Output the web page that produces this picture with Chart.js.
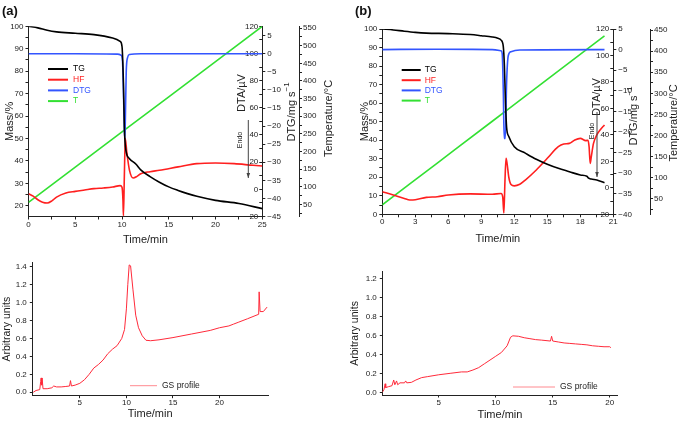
<!DOCTYPE html>
<html>
<head>
<meta charset="utf-8">
<title>TG / DTA and GS profile</title>
<script src="https://cdn.jsdelivr.net/npm/chart.js@4"></script>
<style>
  body { margin: 0; background: #fff; }
  #wrap { position: relative; width: 685px; height: 422px; }
  canvas { position: absolute; }
</style>
</head>
<body>
<div id="wrap">
  <canvas id="chartA" width="340" height="250" style="left:0;top:0"></canvas>
  <canvas id="chartB" width="345" height="250" style="left:340px;top:0"></canvas>
  <canvas id="chartC" width="340" height="172" style="left:0;top:250px"></canvas>
  <canvas id="chartD" width="345" height="172" style="left:340px;top:250px"></canvas>
</div>

<script>
// ---------- panel (a) ----------
var aTgTime  = [0, 1, 2, 3, 5, 7, 9, 9.8, 10.0, 10.15, 10.25, 10.4, 10.8, 11.5, 12, 13, 14, 15, 16, 17, 18, 20, 22.5, 25];
var aTgMass  = [100, 99.3, 98.2, 97.5, 96.9, 96.3, 94.8, 93.3, 91, 75, 55, 45, 41, 38.5, 36, 33, 30.5, 28.4, 26.8, 25.4, 24.2, 22.4, 21, 18.7];
var aHfTime  = [0, 0.5, 1, 1.5, 2, 2.5, 3, 4, 5, 6, 7, 8, 9, 9.8, 10.0, 10.1, 10.15, 10.25, 10.35, 10.5, 10.8, 11.2, 11.6, 12, 13, 14, 16, 18, 20, 22, 24, 25];
var aHfDta   = [-3.2, -5, -7.7, -9.5, -10.1, -8.5, -5.7, -2.7, -1.5, -0.5, 0.5, 1, 1.7, 2.7, 1.5, -8, -19.5, 10, 37.4, 28, 14, 8.3, 9.5, 11.5, 13, 14, 16.5, 18.9, 19.4, 18.9, 17.7, 17.2];
var aDtgTime = [0, 5, 9.5, 9.9, 10.05, 10.15, 10.25, 10.3, 10.35, 10.45, 10.6, 10.8, 12, 25];
var aDtgVal  = [0, 0, -0.1, -0.4, -2, -10, -21, -23.4, -19, -5, -1, -0.2, 0, 0];
var aTempTime = [0, 5, 10, 15, 20, 25];
var aTempVal  = [56, 156, 256, 355, 455, 555];

// ---------- panel (b) ----------
var bTgTime  = [0, 1, 2, 3, 4, 6, 8, 9, 10, 10.5, 10.8, 11.0, 11.1, 11.2, 11.3, 11.5, 12, 13, 14, 15, 16, 17, 18, 18.6, 18.75, 19, 19.5, 20.2];
var bTgMass  = [100, 99.5, 98.8, 98.2, 97.8, 97.5, 97, 96.4, 95.7, 95, 94, 90.5, 80, 60, 47, 42, 36.5, 33, 29.7, 27, 24.8, 23, 21.2, 20.5, 19.5, 19, 18.5, 17];
var bHfTime  = [0, 1, 2, 2.5, 3, 4, 5, 6, 8, 10, 10.8, 10.95, 11.05, 11.15, 11.25, 11.35, 11.5, 11.7, 12, 12.5, 13, 14, 15, 16, 16.5, 17, 17.5, 18, 18.5, 18.7, 18.8, 18.9, 19.0, 19.2, 19.5, 19.8, 20.2];
var bHfDta   = [-3, -5.4, -8, -9.2, -9, -7.2, -6.7, -5.4, -4.6, -4.9, -4.3, -7, -19, 5, 22.3, 18, 8, 2.5, 1.5, 2.7, 5.9, 13.5, 22.3, 31.1, 33.1, 33.6, 36.2, 37.4, 35.7, 36, 31, 18.5, 23.6, 33.6, 40, 43.7, 47.5];
var bDtgTime = [0, 5, 10, 10.8, 10.9, 11.0, 11.08, 11.18, 11.3, 11.45, 11.7, 12.5, 20.2];
var bDtgVal  = [0, 0.1, 0, -0.3, -1, -10, -21.6, -21.6, -8, -1.5, -0.5, -0.1, 0];
var bTempTime = [0, 5, 10, 15, 20.2];
var bTempVal  = [36, 135, 234, 333, 436];

// ---------- GS profiles ----------
var cTime = [0, 0.3, 0.7, 0.8, 0.85, 0.9, 0.95, 1.05, 1.5, 2.0, 2.2, 2.5, 3.0, 3.5, 3.9, 4.0, 4.1, 4.5, 5, 5.5, 6, 6.5, 7, 7.5, 8, 8.5, 9, 9.5, 9.8, 10, 10.15, 10.3, 10.45, 10.7, 11, 11.3, 11.7, 12.1, 12.6, 13.5, 15, 17, 19, 20, 21, 21.5, 22, 23, 24.2, 24.25, 24.35, 24.7, 25.1];
var cVal  = [0, 0.02, 0.03, 0.12, 0.16, 0.08, 0.16, 0.04, 0.04, 0.05, 0.07, 0.06, 0.06, 0.065, 0.07, 0.13, 0.07, 0.08, 0.1, 0.14, 0.2, 0.27, 0.31, 0.36, 0.43, 0.48, 0.52, 0.6, 0.7, 0.93, 1.2, 1.42, 1.41, 1.15, 0.86, 0.72, 0.63, 0.58, 0.575, 0.585, 0.61, 0.65, 0.69, 0.72, 0.74, 0.76, 0.78, 0.82, 0.87, 1.12, 0.9, 0.9, 0.95];
var dTime = [0.05, 0.2, 0.3, 0.35, 0.6, 0.9, 1.05, 1.15, 1.3, 1.4, 1.6, 2.0, 2.1, 2.2, 2.6, 3, 3.5, 4, 5, 6, 7, 7.5, 8, 8.5, 9, 9.5, 10, 10.5, 11, 11.3, 11.5, 12, 12.5, 13, 13.5, 14, 14.8, 14.9, 15.0, 15.5, 16, 16.5, 17, 17.5, 18, 18.5, 19, 19.5, 20, 20.1];
var dVal  = [0, 0.03, 0.09, 0.05, 0.06, 0.07, 0.13, 0.08, 0.12, 0.08, 0.1, 0.1, 0.12, 0.1, 0.105, 0.13, 0.155, 0.165, 0.185, 0.2, 0.215, 0.215, 0.235, 0.26, 0.3, 0.34, 0.38, 0.42, 0.49, 0.58, 0.595, 0.59, 0.575, 0.565, 0.555, 0.55, 0.54, 0.59, 0.54, 0.53, 0.52, 0.515, 0.51, 0.505, 0.5, 0.49, 0.485, 0.48, 0.48, 0.47];

var FONT = "'Liberation Sans', Arial, Helvetica, sans-serif";
var INK = '#222';
var C_TG = '#000000', C_HF = '#ff1f1f', C_DTG = '#3355ff', C_T = '#33e033';
var C_GS = '#ff2a3a';

Chart.defaults.font.family = FONT;
Chart.defaults.color = INK;

function pts(xs, ys) {
    return xs.map(function (x, i) { return { x: x, y: ys[i] }; });
}

function minus(v) {
    return v < 0 ? '\u2212' + Math.abs(v) : String(v);
}

function every(v, n) {
    return Math.abs(v / n - Math.round(v / n)) < 1e-6;
}

// one axis, with forced size so the plot lands where the figure has it
function axis(o) {
    var a = {
        type: 'linear',
        position: o.position,
        min: o.min,
        max: o.max,
        border: { display: o.border !== false, color: INK, width: 1 },
        grid: { drawOnChartArea: false, tickLength: o.tickLength || 3, color: INK },
        ticks: {
            stepSize: o.step,
            autoSkip: false,
            includeBounds: false,
            maxRotation: 0,
            mirror: !!o.mirror,
            padding: o.padding !== undefined ? o.padding : 1,
            font: { size: 8 },
            callback: o.fmt || function (v) { return every(v, o.labelEvery) ? minus(v) : ''; }
        }
    };
    if (o.title) {
        a.title = { display: true, text: o.title, font: { size: o.titleSize || 11 }, padding: o.titlePad };
    }
    if (o.width !== undefined) a.afterFit = function (s) { s.width = o.width; };
    if (o.height !== undefined) a.afterFit = function (s) { s.height = o.height; };
    if (o.afterBuildTicks) a.afterBuildTicks = o.afterBuildTicks;
    return a;
}

// small texts, rotated titles and the Endo arrow
function textPlugin(items) {
    return {
        id: 'texts',
        afterDraw: function (chart) {
            var ctx = chart.ctx;
            items.forEach(function (t) {
                ctx.save();
                ctx.fillStyle = t.color || INK;
                ctx.strokeStyle = t.color || INK;
                if (t.arrow) {
                    ctx.lineWidth = 1;
                    ctx.beginPath();
                    ctx.moveTo(t.x, t.y1);
                    ctx.lineTo(t.x, t.y2);
                    ctx.stroke();
                    ctx.beginPath();
                    ctx.moveTo(t.x - 1.8, t.y2 - 5);
                    ctx.lineTo(t.x + 1.8, t.y2 - 5);
                    ctx.lineTo(t.x, t.y2);
                    ctx.closePath();
                    ctx.fill();
                    ctx.restore();
                    return;
                }
                ctx.translate(t.x, t.y);
                if (t.rot) ctx.rotate(-Math.PI / 2);
                ctx.textBaseline = t.baseline || 'middle';
                ctx.textAlign = 'left';
                var f = (t.bold ? 'bold ' : '') + t.size + 'px ' + FONT;
                var sf = (t.size * 0.72).toFixed(1) + 'px ' + FONT;
                ctx.font = f;
                var w = ctx.measureText(t.text).width;
                var sw = 0;
                if (t.sup) {
                    ctx.font = sf;
                    sw = ctx.measureText(t.sup).width;
                    ctx.font = f;
                }
                var x0 = t.align === 'left' ? 0 : -(w + sw) / 2;
                ctx.fillText(t.text, x0, 0);
                if (t.sup) {
                    ctx.font = sf;
                    ctx.fillText(t.sup, x0 + w, -t.size * 0.38);
                }
                ctx.restore();
            });
        }
    };
}

// legend drawn inside the plot area
function legendPlugin(cfg) {
    return {
        id: 'innerLegend',
        afterDraw: function (chart) {
            var ctx = chart.ctx;
            ctx.save();
            ctx.font = cfg.size + 'px ' + FONT;
            ctx.textBaseline = 'middle';
            ctx.textAlign = 'left';
            chart.data.datasets.forEach(function (ds, i) {
                var y = cfg.y + i * (cfg.dy || 0);
                ctx.strokeStyle = cfg.lineColor || ds.borderColor;
                ctx.lineWidth = cfg.lineWidth;
                ctx.beginPath();
                ctx.moveTo(cfg.x, y);
                ctx.lineTo(cfg.x + cfg.len, y);
                ctx.stroke();
                ctx.fillStyle = cfg.textColor || ds.borderColor;
                ctx.fillText(ds.label, cfg.x + cfg.len + cfg.gap, y);
            });
            ctx.restore();
        }
    };
}

function line(label, data, color, axisId, width) {
    return {
        label: label,
        data: data,
        borderColor: color,
        backgroundColor: color,
        borderWidth: width,
        pointRadius: 0,
        yAxisID: axisId,
        cubicInterpolationMode: 'monotone'
    };
}

// ---------- (a) ----------
new Chart(document.getElementById('chartA'), {
    type: 'line',
    data: {
        datasets: [
            line('TG', pts(aTgTime, aTgMass), C_TG, 'yMass', 1.6),
            line('HF', pts(aHfTime, aHfDta), C_HF, 'yDta', 1.6),
            line('DTG', pts(aDtgTime, aDtgVal), C_DTG, 'yDtg', 1.6),
            line('T', pts(aTempTime, aTempVal), C_T, 'yTemp', 1.6)
        ]
    },
    options: {
        responsive: false,
        animation: false,
        events: [],
        layout: { padding: { top: 26.3, left: 0, right: 0, bottom: 0 } },
        plugins: { legend: { display: false }, tooltip: { enabled: false } },
        scales: {
            x: axis({ position: 'bottom', min: 0, max: 25, step: 2.5, labelEvery: 5, height: 33.5, padding: 0,
                      title: 'Time/min', titlePad: { top: 0, bottom: 3.4 } }),
            yMass: axis({ position: 'left', min: 15.2, max: 100, step: 5, labelEvery: 10, width: 28.5, padding: 2,
                          title: 'Mass/%', titlePad: { top: 3.4, bottom: 0 } }),
            yDta: axis({ position: 'right', min: -20, max: 120, step: 10, labelEvery: 20, width: 0,
                         mirror: true, padding: -4, tickLength: -3, border: false }),
            yDtg: axis({ position: 'right', min: -45, max: 7.6, step: 5, labelEvery: 5, width: 36.7, padding: 2 }),
            yTemp: axis({ position: 'right', min: 16, max: 555, step: 25, labelEvery: 50, width: 41, padding: 1 })
        }
    },
    plugins: [
        legendPlugin({ x: 48, y: 69, dy: 10.7, len: 20, gap: 5, size: 8.5, lineWidth: 2 }),
        textPlugin([
            { text: '(a)', x: 2, y: 15, size: 13, bold: true, align: 'left', baseline: 'alphabetic', color: '#111' },
            { text: 'DTA/\u00b5V', x: 241.7, y: 93, size: 11, rot: true },
            { text: 'DTG/mg s', sup: '\u22121', x: 291.5, y: 112, size: 11, rot: true },
            { text: 'Temperature/\u00b0C', x: 329, y: 118.5, size: 11, rot: true },
            { arrow: true, x: 248.3, y1: 120, y2: 178, color: '#444' },
            { text: 'Endo', x: 240.5, y: 140, size: 7, rot: true }
        ])
    ]
});

// ---------- (b) ----------
new Chart(document.getElementById('chartB'), {
    type: 'line',
    data: {
        datasets: [
            line('TG', pts(bTgTime, bTgMass), C_TG, 'yMass', 1.6),
            line('HF', pts(bHfTime, bHfDta), C_HF, 'yDta', 1.6),
            line('DTG', pts(bDtgTime, bDtgVal), C_DTG, 'yDtg', 1.6),
            line('T', pts(bTempTime, bTempVal), C_T, 'yTemp', 1.6)
        ]
    },
    options: {
        responsive: false,
        animation: false,
        events: [],
        layout: { padding: { top: 29, left: 0, right: 0, bottom: 0 } },
        plugins: { legend: { display: false }, tooltip: { enabled: false } },
        scales: {
            x: axis({ position: 'bottom', min: 0, max: 21, step: 1.5, labelEvery: 3, height: 35.7, padding: 0,
                      title: 'Time/min', titlePad: { top: 0, bottom: 4.4 } }),
            yMass: axis({ position: 'left', min: 0, max: 100, step: 5, labelEvery: 10, width: 42.3, padding: 2,
                          title: 'Mass/%', titlePad: { top: 18.4, bottom: 0 } }),
            yDta: axis({ position: 'right', min: -20, max: 120, step: 10, labelEvery: 20, width: 0,
                         mirror: true, padding: -4, tickLength: -3, border: false }),
            yDtg: axis({ position: 'right', min: -40, max: 5, step: 5, labelEvery: 5, width: 36.7, padding: 2 }),
            yTemp: axis({ position: 'right', min: 13.7, max: 452.4, step: 25, labelEvery: 50, width: 35, padding: 1 })
        }
    },
    plugins: [
        legendPlugin({ x: 61.7, y: 70, dy: 10.2, len: 19, gap: 4, size: 8.5, lineWidth: 2 }),
        textPlugin([
            { text: '(b)', x: 15, y: 15, size: 13, bold: true, align: 'left', baseline: 'alphabetic', color: '#111' },
            { text: 'DTA/\u00b5V', x: 256.7, y: 97, size: 11, rot: true },
            { text: 'DTG/mg s', sup: '\u22121', x: 294, y: 116, size: 11, rot: true },
            { text: 'Temperature/\u00b0C', x: 334, y: 123, size: 11, rot: true },
            { arrow: true, x: 257, y1: 112, y2: 177, color: '#444' },
            { text: 'Endo', x: 251.7, y: 131, size: 7, rot: true }
        ])
    ]
});

// ---------- GS profile panels ----------
function gsChart(id, time, val, o) {
    return new Chart(document.getElementById(id), {
        type: 'line',
        data: {
            datasets: [{
                label: 'GS profile',
                data: pts(time, val),
                borderColor: C_GS,
                borderWidth: 1,
                pointRadius: 0,
                tension: 0,
                yAxisID: 'y'
            }]
        },
        options: {
            responsive: false,
            animation: false,
            events: [],
            layout: { padding: { top: o.top, left: 0, right: o.right, bottom: 0 } },
            plugins: { legend: { display: false }, tooltip: { enabled: false } },
            scales: {
                x: axis({ position: 'bottom', min: o.xMin, max: o.xMax, step: 5, labelEvery: 5, height: o.xHeight,
                          padding: 0, tickLength: 2.5,
                          title: 'Time/min', titlePad: { top: 0, bottom: o.xTitlePad },
                          afterBuildTicks: function (s) {
                              s.ticks = s.ticks.filter(function (t) { return t.value > 0.01 && t.value < 24.9; });
                          } }),
                y: axis({ position: 'left', min: o.yMin, max: o.yMax, step: 0.2, width: o.yWidth, padding: 3,
                          tickLength: 2.5, title: 'Arbitrary units', titleSize: 10.5,
                          titlePad: { top: o.yTitlePad, bottom: 0 },
                          fmt: function (v) { return v.toFixed(1); } })
            }
        },
        plugins: [
            legendPlugin({ x: o.legX, y: o.legY, len: o.legLen, gap: 5, size: 8.5, lineWidth: 1,
                           lineColor: '#ff8a90', textColor: INK })
        ]
    });
}

gsChart('chartC', cTime, cVal, {
    top: 12.7, right: 72, xMin: -0.1, xMax: 25.2, xHeight: 26.3, xTitlePad: 1.4,
    yMin: -0.038, yMax: 1.445, yWidth: 32.3, yTitlePad: 1,
    legX: 130, legY: 135.7, legLen: 27
});

gsChart('chartD', dTime, dVal, {
    top: 21.7, right: 67.3, xMin: 0.05, xMax: 20.7, xHeight: 27, xTitlePad: 0.4,
    yMin: -0.028, yMax: 1.27, yWidth: 42.3, yTitlePad: 8.7,
    legX: 173, legY: 137, legLen: 42
});
</script>
</body>
</html>
